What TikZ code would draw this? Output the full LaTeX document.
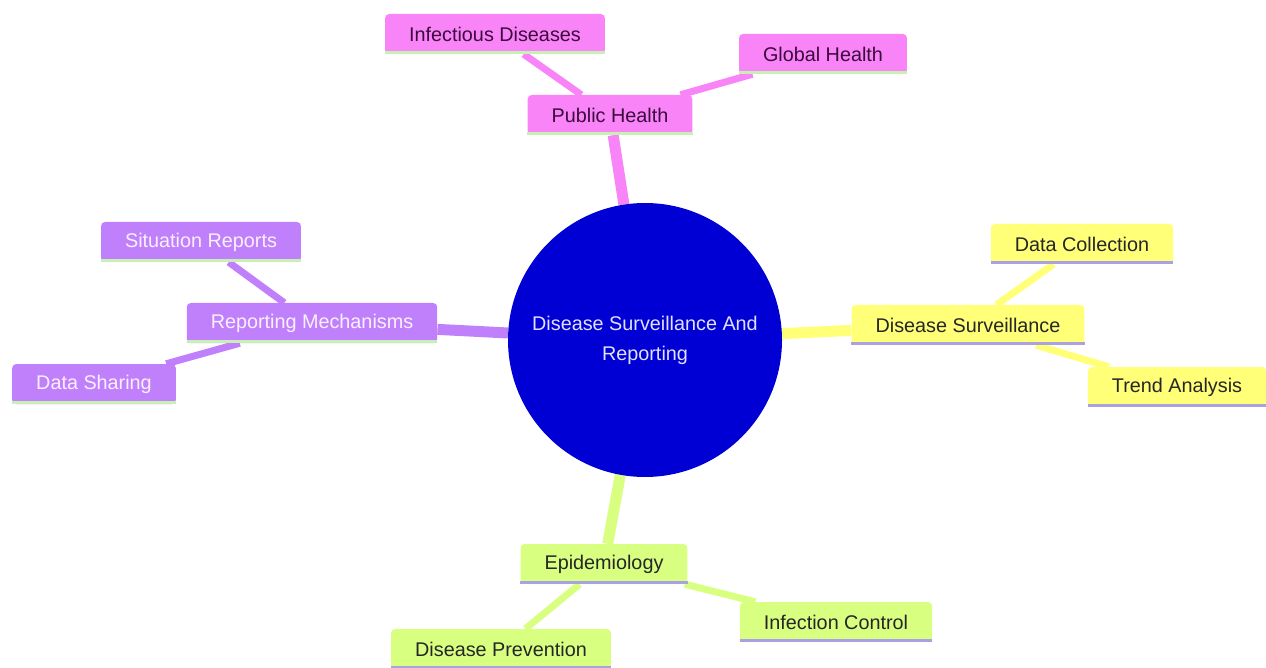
\documentclass[tikz,border=0pt]{standalone}
\usepackage{fontspec}
\setmainfont{Liberation Sans}
\usetikzlibrary{calc,positioning,backgrounds}

\definecolor{rootblue}{RGB}{0,0,212}
\definecolor{pinkfill}{RGB}{248,132,248}
\definecolor{purplefill}{RGB}{192,128,252}
\definecolor{yellowfill}{RGB}{255,255,120}
\definecolor{greenfill}{RGB}{216,255,128}
\definecolor{greenline}{RGB}{200,240,180}
\definecolor{lavline}{RGB}{170,160,228}
\definecolor{pinktext}{RGB}{60,10,60}
\definecolor{purpletext}{RGB}{250,240,255}

\tikzset{
	topic/.style={rectangle, rounded corners=4pt, minimum height=40pt, inner xsep=24pt, font=\fontsize{19.8}{24}\selectfont},
	pinkbox/.style={topic, fill=pinkfill, text=pinktext},
	purplebox/.style={topic, fill=purplefill, text=purpletext},
	yellowbox/.style={topic, fill=yellowfill, text=black!85},
	greenbox/.style={topic, fill=greenfill, text=black!85},
	branch/.style={line width=11pt},
	twig/.style={line width=7pt}
}

\begin{document}
\begin{tikzpicture}[x=1pt,y=-1pt]
	\useasboundingbox (0,0) rectangle (1266,668);

	\node[circle, fill=rootblue, minimum size=274pt, inner sep=0pt, text={rgb,255:red,225;green,225;blue,255}, align=center, font=\fontsize{19.8}{30}\selectfont] (root) at (645,340) {Disease Surveillance And\\Reporting};

	% main topics
	\node[pinkbox] (pubh) at (610,115) {Public Health};
	\node[yellowbox] (survl) at (968,325) {Disease Surveillance};
	\node[purplebox] (repmech) at (312,323) {Reporting Mechanisms};
	\node[greenbox] (epi) at (604,564) {Epidemiology};

	% sub topics
	\node[pinkbox] (infect) at (495,34) {Infectious Diseases};
	\node[pinkbox] (global) at (823,54) {Global Health};
	\node[yellowbox] (datacol) at (1082,244) {Data Collection};
	\node[yellowbox] (trend) at (1177,387) {Trend Analysis};
	\node[purplebox] (sitrep) at (201,242) {Situation Reports};
	\node[purplebox] (datashare) at (94,384) {Data Sharing};
	\node[greenbox] (infctrl) at (836,622) {Infection Control};
	\node[greenbox] (prevent) at (501,649) {Disease Prevention};

	\begin{scope}[on background layer]
	\draw[branch, pinkfill] (root) -- (pubh);
	\draw[branch, yellowfill] (root) -- (survl);
	\draw[branch, purplefill] (root) -- (repmech);
	\draw[branch, greenfill] (root) -- (epi);

	\draw[twig, pinkfill] (pubh) -- (infect);
	\draw[twig, pinkfill] (pubh) -- (global);
	\draw[twig, yellowfill] (survl) -- (datacol);
	\draw[twig, yellowfill] (survl) -- (trend);
	\draw[twig, purplefill] (repmech) -- (sitrep);
	\draw[twig, purplefill] (repmech) -- (datashare);
	\draw[twig, greenfill] (epi) -- (infctrl);
	\draw[twig, greenfill] (epi) -- (prevent);
	\end{scope}

	% underlines
	\foreach \n in {pubh,infect,global,repmech,sitrep,datashare}{
	\draw[line width=3pt, greenline] ($(\n.south west)+(0,-1.5)$) -- ($(\n.south east)+(0,-1.5)$);
	}
	\foreach \n in {survl,datacol,trend,epi,infctrl,prevent}{
	\draw[line width=3pt, lavline] ($(\n.south west)+(0,-1.5)$) -- ($(\n.south east)+(0,-1.5)$);
	}
\end{tikzpicture}
\end{document}
